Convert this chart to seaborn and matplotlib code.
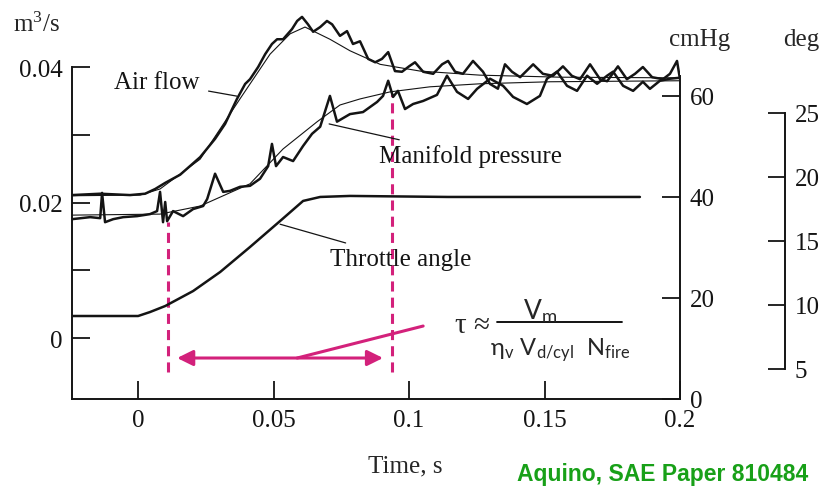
import numpy as np
import pandas as pd
import matplotlib.pyplot as plt
import seaborn as sns
from matplotlib.lines import Line2D

# measured air flow (s, m^3/s)
air_t = [-0.0244, -0.0140, -0.0030, 0.0026, 0.0063, 0.0100, 0.0155, 0.0229, 0.0284, 0.0321,
         0.0365, 0.0395, 0.0413, 0.0443, 0.0469, 0.0494, 0.0513, 0.0535, 0.0568, 0.0587,
         0.0605, 0.0627, 0.0646, 0.0672, 0.0697, 0.0716, 0.0745, 0.0771, 0.0793, 0.0819,
         0.0849, 0.0875, 0.0900, 0.0923, 0.0948, 0.0974, 0.1000, 0.1022, 0.1052, 0.1089,
         0.1122, 0.1144, 0.1170, 0.1199, 0.1236, 0.1273, 0.1299, 0.1328, 0.1354, 0.1380,
         0.1410, 0.1458, 0.1494, 0.1531, 0.1568, 0.1601, 0.1631, 0.1668, 0.1705, 0.1731,
         0.1771, 0.1804, 0.1834, 0.1863, 0.1897, 0.1937, 0.1963, 0.1989, 0.2000]
air_q = [0.0211, 0.0213, 0.0211, 0.0213, 0.0220, 0.0229, 0.0241, 0.0267, 0.0294, 0.0316,
         0.0353, 0.0375, 0.0382, 0.0400, 0.0419, 0.0434, 0.0441, 0.0441, 0.0456, 0.0468,
         0.0474, 0.0463, 0.0452, 0.0459, 0.0468, 0.0463, 0.0446, 0.0453, 0.0434, 0.0438,
         0.0412, 0.0407, 0.0412, 0.0422, 0.0394, 0.0393, 0.0401, 0.0407, 0.0393, 0.0390,
         0.0404, 0.0409, 0.0393, 0.0390, 0.0409, 0.0393, 0.0375, 0.0368, 0.0404, 0.0393,
         0.0385, 0.0404, 0.0390, 0.0387, 0.0401, 0.0387, 0.0382, 0.0404, 0.0382, 0.0379,
         0.0401, 0.0382, 0.0390, 0.0400, 0.0385, 0.0382, 0.0390, 0.0409, 0.0382]

# model air flow
air_model_t = [-0.0244, 0.0007, 0.0081, 0.0229, 0.0376, 0.0487, 0.0561, 0.0616, 0.0708,
               0.0782, 0.0893, 0.1041, 0.1262, 0.1557, 0.2000]
air_model_q = [0.0210, 0.0211, 0.0220, 0.0264, 0.0353, 0.0419, 0.0449, 0.0459, 0.0441,
               0.0424, 0.0404, 0.0394, 0.0388, 0.0385, 0.0384]

# measured manifold pressure (s, cmHg)
map_t = [-0.0244, -0.0177, -0.0140, -0.0133, -0.0122, -0.0092, -0.0055, -0.0004, 0.0044, 0.0070,
         0.0081, 0.0092, 0.0100, 0.0107, 0.0129, 0.0166, 0.0203, 0.0240, 0.0255, 0.0284,
         0.0314, 0.0339, 0.0376, 0.0413, 0.0450, 0.0480, 0.0494, 0.0509, 0.0535, 0.0572,
         0.0609, 0.0642, 0.0672, 0.0708, 0.0734, 0.0782, 0.0830, 0.0882, 0.0904, 0.0923,
         0.0941, 0.0959, 0.0985, 0.1015, 0.1052, 0.1103, 0.1140, 0.1177, 0.1218, 0.1251,
         0.1299, 0.1347, 0.1384, 0.1435, 0.1483, 0.1509, 0.1546, 0.1583, 0.1620, 0.1657,
         0.1694, 0.1731, 0.1753, 0.1790, 0.1827, 0.1863, 0.1889, 0.1926, 0.1963, 0.2000]
map_p = [35.6, 36.0, 35.8, 40.8, 35.0, 35.6, 36.0, 36.2, 36.6, 37.2,
         41.0, 35.0, 39.0, 35.2, 37.2, 36.2, 37.6, 38.2, 39.6, 44.6,
         41.0, 41.2, 42.0, 42.2, 43.6, 46.1, 50.5, 46.1, 47.9, 47.1,
         50.1, 52.5, 53.9, 60.0, 54.9, 56.4, 56.8, 58.8, 60.0, 63.0,
         59.8, 61.0, 57.4, 58.4, 59.0, 60.2, 64.0, 60.8, 59.4, 61.4,
         63.4, 62.0, 59.8, 58.4, 60.0, 63.4, 64.8, 62.0, 61.0, 64.0,
         62.4, 64.0, 64.8, 62.0, 61.0, 62.8, 61.4, 63.0, 63.4, 63.6]

# model manifold pressure
map_model_t = [-0.0244, 0.0081, 0.0229, 0.0413, 0.0535, 0.0661, 0.0745, 0.0819, 0.0930,
               0.1077, 0.1262, 0.1520, 0.2000]
map_model_p = [36.4, 36.6, 38.2, 42.6, 49.5, 54.9, 58.2, 59.4, 60.8, 61.8, 62.4, 62.8, 63.0]

# throttle angle (s, deg)
thr_t = [-0.0244, 0.0, 0.0044, 0.0100, 0.0203, 0.0303, 0.0413, 0.0524, 0.0609, 0.0672,
         0.0782, 0.1144, 0.1557, 0.1852]
thr_deg = [9.14, 9.14, 9.45, 9.92, 11.09, 12.58, 14.53, 16.56, 18.13, 18.44,
           18.52, 18.44, 18.44, 18.44]

x_ticks = [0, 0.05, 0.1, 0.15, 0.2]
x_labels = ["0", "0.05", "0.1", "0.15", "0.2"]
q_ticks = [0, 0.02, 0.04]
q_labels = ["0", "0.02", "0.04"]
p_ticks = [0, 20, 40, 60]
d_ticks = [5, 10, 15, 20, 25]

# time-constant window (s)
tau_start, tau_end = 0.0111, 0.0937

sns.set_theme(style="ticks")
plt.rcParams['font.family'] = ['Liberation Serif', 'DejaVu Serif']
plt.rcParams['mathtext.fontset'] = 'stix'

ink = "#141414"
pink = "#d3217b"
fs = 18

fig = plt.figure(figsize=(8.23, 4.89), dpi=100)
ax = fig.add_axes([72 / 823, 1 - 400 / 489, 608 / 823, 392 / 489])
ax_p = ax.twinx()
ax_d = ax.twinx()

air = pd.DataFrame({"t": air_t, "q": air_q})
air_m = pd.DataFrame({"t": air_model_t, "q": air_model_q})
mp = pd.DataFrame({"t": map_t, "p": map_p})
mp_m = pd.DataFrame({"t": map_model_t, "p": map_model_p})
thr = pd.DataFrame({"t": thr_t, "deg": thr_deg})

sns.lineplot(data=air_m, x="t", y="q", ax=ax, color=ink, lw=0.8, sort=False, estimator=None)
sns.lineplot(data=air, x="t", y="q", ax=ax, color=ink, lw=1.8, sort=False, estimator=None)
sns.lineplot(data=mp_m, x="t", y="p", ax=ax_p, color=ink, lw=0.8, sort=False, estimator=None)
sns.lineplot(data=mp, x="t", y="p", ax=ax_p, color=ink, lw=1.8, sort=False, estimator=None)
sns.lineplot(data=thr, x="t", y="deg", ax=ax_d, color=ink, lw=1.8, sort=False, estimator=None)

ax.set_xlim(-0.0244, 0.2)
ax.set_ylim(-0.0090, 0.04886)
ax_p.set_ylim(0, 77.6)
ax_d.set_ylim(2.656, 33.28)

for a in (ax, ax_p, ax_d):
    a.set_xlabel("")
    a.set_ylabel("")
    for s in a.spines.values():
        s.set_visible(False)
        s.set_color(ink)
        s.set_linewidth(1.4)

ax.spines["left"].set_visible(True)
ax.spines["bottom"].set_visible(True)
ax.spines["left"].set_bounds(-0.0090, 0.04)
ax.set_xticks(x_ticks, x_labels)
ax.set_yticks(q_ticks, q_labels)
ax.set_yticks([0.01, 0.03], minor=True)
ax.tick_params(axis="both", which="both", direction="in", length=13, width=1.3,
               colors=ink, labelsize=fs, pad=7)

ax_p.spines["right"].set_visible(True)
ax_p.spines["right"].set_bounds(0, 64)
ax_p.set_yticks(p_ticks)
ax_p.tick_params(axis="y", direction="in", length=13, width=1.3, colors=ink,
                 labelsize=fs, pad=7)

ax_d.spines["right"].set_visible(True)
ax_d.spines["right"].set_position(("axes", 713 / 608))
ax_d.spines["right"].set_bounds(5, 25)
ax_d.set_yticks(d_ticks)
ax_d.tick_params(axis="y", direction="in", length=12, width=1.3, colors=ink,
                 labelsize=fs, pad=7)

# curve labels with leader lines (main axis units)
lead = dict(arrowstyle="-", lw=0.9, color=ink, shrinkA=4, shrinkB=0)
ax.annotate("Air flow", xy=(0.0365, 0.0357), xytext=(0.0070, 0.0378),
            ha="center", va="center", fontsize=fs, color=ink, arrowprops=lead)
ax.annotate("Manifold pressure", xy=(0.0705, 0.0316), xytext=(0.1225, 0.0269),
            ha="center", va="center", fontsize=fs, color=ink, arrowprops=lead)
ax.annotate("Throttle angle", xy=(0.0524, 0.0168), xytext=(0.0970, 0.0117),
            ha="center", va="center", fontsize=fs, color=ink, arrowprops=lead)

# pink time-constant markers
dash = (0, (3.3, 2.0))
ax.vlines(tau_start, -0.0050, 0.0171, color=pink, lw=2.2, linestyles=dash)
ax.vlines(tau_end, -0.0050, 0.0360, color=pink, lw=2.2, linestyles=dash)
y_arrow = -0.00295
ax.annotate("", xy=(0.0144, y_arrow), xytext=(0.0904, y_arrow),
            arrowprops=dict(arrowstyle="<|-|>,head_length=0.95,head_width=0.47",
                            mutation_scale=10, color=pink, lw=2.2, shrinkA=0, shrinkB=0))
ax.annotate("", xy=(0.0587, y_arrow), xytext=(0.1052, 0.00177),
            arrowprops=dict(arrowstyle="-", color=pink, lw=2.2, shrinkA=0, shrinkB=0))

# formula
ff = ["Lato", "DejaVu Sans"]
fig.text(455 / 823, 1 - 326 / 489, "τ ≈", family=["Liberation Serif", "DejaVu Serif"],
         fontsize=21, ha="left", va="center")
fig.text(540 / 823, 1 - 311 / 489, r"V$_\mathregular{m}$", family=ff, fontsize=19,
         ha="center", va="center")
fig.add_artist(Line2D([497 / 823, 622 / 823], [1 - 323 / 489, 1 - 323 / 489],
                      color="black", lw=1.3))
fig.text(560 / 823, 1 - 350 / 489,
         r"η$_\mathregular{v}$ V$_\mathregular{d/cyl}$  N$_\mathregular{fire}$",
         family=ff, fontsize=17, ha="center", va="center")

# axis titles
fig.text(13 / 823, 1 - 25 / 489, r"m$^\mathregular{3}$/s", fontsize=fs, ha="left", va="center")
fig.text(700 / 823, 1 - 40 / 489, "cmHg", fontsize=fs, ha="center", va="center")
fig.text(801 / 823, 1 - 40 / 489, "deg", fontsize=fs, ha="center", va="center")
fig.text(405 / 823, 1 - 466 / 489, "Time, s", fontsize=fs, ha="center", va="center")
fig.text(808 / 823, 1 - 475 / 489, "Aquino, SAE Paper 810484", family="Liberation Sans",
         fontweight="bold", fontsize=16.5, color="#18a018", ha="right", va="center")

fig.savefig("out.png", dpi=100)
